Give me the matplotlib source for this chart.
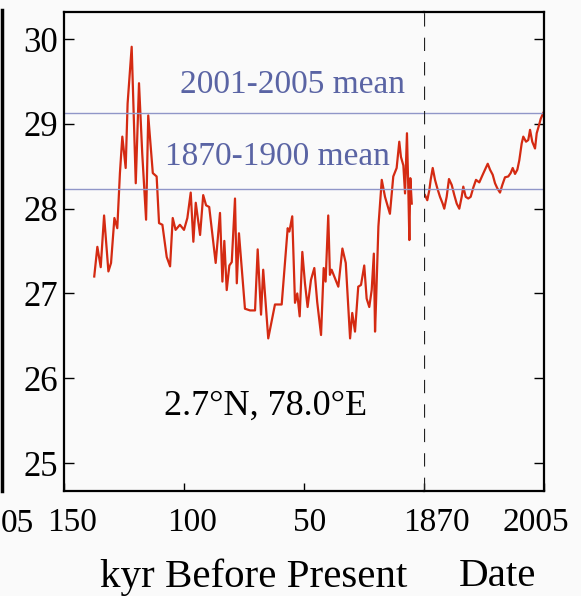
import matplotlib.pyplot as plt
from matplotlib.lines import Line2D
from matplotlib.transforms import ScaledTranslation

plt.rcParams['font.family'] = ['Liberation Serif', 'DejaVu Serif']

# paleo record (kyr before present, SST degC)
kyr = [137.4, 136.1, 134.7, 133.3, 131.5, 130.4, 129.0, 127.8, 126.7, 125.7,
       124.3, 123.5, 121.8, 120.1, 118.75, 117.4, 115.8, 114.9, 113.0, 111.4,
       110.4, 109.0, 107.2, 105.8, 104.7, 103.5, 101.7, 100.0, 98.6, 97.2,
       96.1, 95.1, 93.3, 92.0, 90.8, 89.5, 86.8, 85.0, 84.0, 83.2,
       82.2, 81.1, 80.1, 78.75, 78.0, 77.1, 74.6, 72.5, 70.4, 69.3,
       67.9, 67.0, 64.9, 62.1, 59.3, 56.8, 56.1, 54.9, 53.75, 52.8,
       51.8, 50.7, 49.6, 48.5, 47.1, 45.7, 44.5, 42.9, 41.8, 41.0,
       39.9, 39.2, 38.5, 35.7, 34.0, 32.6, 30.8, 29.9, 28.75, 27.4,
       26.25, 24.9, 23.9, 22.8, 21.8, 20.9, 20.4, 20.0, 19.0, 17.6,
       16.25, 14.2, 12.8, 11.4, 10.3, 9.6, 8.6, 7.9, 7.1, 6.5,
       6.1, 5.7, 5.1]
sst_paleo = [27.20, 27.55, 27.31, 27.92, 27.26, 27.36, 27.89, 27.77, 28.42, 28.85,
             28.48, 29.24, 29.91, 28.30, 29.48, 28.65, 27.87, 29.10, 28.42, 28.38,
             27.83, 27.81, 27.43, 27.32, 27.89, 27.75, 27.81, 27.75, 27.89, 28.19,
             27.61, 28.07, 27.69, 28.16, 28.04, 28.02, 27.36, 27.95, 27.14, 27.62,
             27.04, 27.33, 27.37, 28.12, 27.12, 27.71, 26.82, 26.80, 26.80, 27.52,
             26.75, 27.28, 26.47, 26.87, 26.87, 27.77, 27.73, 27.91, 26.89, 27.00,
             26.73, 27.49, 27.12, 26.84, 27.16, 27.30, 26.90, 26.51, 27.30, 27.14,
             27.92, 27.22, 27.28, 27.08, 27.53, 27.36, 26.47, 26.77, 26.55, 27.08,
             27.10, 27.33, 26.94, 26.84, 27.04, 27.47, 26.55, 26.88, 27.79, 28.34,
             28.14, 27.94, 28.38, 28.48, 28.79, 28.61, 28.51, 28.18, 28.89, 28.18,
             27.63, 28.36, 28.06]

# instrumental record
years = [1871.1, 1873.7, 1876.0, 1877.5, 1879.8, 1882.4, 1885.0, 1888.0, 1891.0, 1892.8,
         1895.5, 1898.1, 1901.2, 1904.1, 1906.8, 1909.7, 1912.4, 1914.2, 1916.9, 1919.8,
         1922.5, 1925.5, 1928.5, 1932.2, 1936.0, 1938.6, 1941.7, 1944.3, 1947.3, 1949.9,
         1952.5, 1955.5, 1958.1, 1961.1, 1964.8, 1967.5, 1969.8, 1972.4, 1975.0, 1977.2,
         1979.9, 1981.7, 1984.8, 1987.3, 1989.3, 1991.8, 1994.9, 1996.8, 1999.0, 2001.3,
         2004.2]
sst_modern = [28.16, 28.10, 28.22, 28.34, 28.48, 28.34, 28.24, 28.14, 28.06, 28.00,
              28.14, 28.35, 28.28, 28.16, 28.06, 28.00, 28.14, 28.26, 28.14, 28.12,
              28.14, 28.25, 28.34, 28.31, 28.40, 28.46, 28.53, 28.46, 28.40, 28.30,
              28.24, 28.19, 28.28, 28.37, 28.38, 28.42, 28.48, 28.41, 28.46, 28.57,
              28.77, 28.85, 28.79, 28.81, 28.93, 28.79, 28.71, 28.89, 28.97, 29.06,
              29.13]

mean_2001_2005 = 29.13
mean_1870_1900 = 28.23

kyr_ticks = [150, 100, 50]
date_ticks = [1870, 2005]
y_ticks = [25, 26, 27, 28, 29, 30]

red = '#d42a12'
blue_line = '#9096c8'
blue_text = '#5a64a4'
bg = '#fafafa'

W, H = 581, 596
fig = plt.figure(figsize=(W / 100, H / 100), dpi=100, facecolor=bg)

bot = 1 - 491 / H
hgt = (491 - 12) / H
ax1 = fig.add_axes([64 / W, bot, 360 / W, hgt], facecolor=bg)
ax2 = fig.add_axes([424 / W, bot, 120 / W, hgt], facecolor=bg, sharey=ax1)

ax1.set_xlim(150, 0)
ax2.set_xlim(1870, 2005)
ax1.set_ylim(24.67, 30.32)

ax1.plot(kyr, sst_paleo, color=red, lw=1.6)
ax2.plot(years, sst_modern, color=red, lw=1.6)

for a in (ax1, ax2):
    a.axhline(mean_2001_2005, color=blue_line, lw=1.0)
    a.axhline(mean_1870_1900, color=blue_line, lw=1.0)
    for s in a.spines.values():
        s.set_linewidth(1.6)
ax2.axvline(1870, color='#222222', lw=1.6, ls=(0, (6, 5)))

ax1.spines['right'].set_visible(False)
ax2.spines['left'].set_visible(False)

ax1.set_yticks(y_ticks)
ax1.set_xticks(kyr_ticks)
ax1.set_xticklabels([str(k) for k in kyr_ticks])
ax2.set_xticks(date_ticks)
ax2.set_xticklabels([str(d) for d in date_ticks])

ax1.tick_params(axis='y', direction='in', length=7, width=1, labelsize=25, pad=4,
                left=True, right=False)
ax2.tick_params(axis='y', direction='in', length=7, width=1, left=False, right=True,
                labelleft=False, labelright=False)
ax1.tick_params(axis='x', direction='in', length=6, width=1, labelsize=24, pad=12)
ax2.tick_params(axis='x', direction='in', length=6, width=1, labelsize=24, pad=12)

# nudge the x labels like in the original
for lab, dx in zip(ax1.get_xticklabels(), [8, 8, 6]):
    lab.set_transform(lab.get_transform() + ScaledTranslation(dx / 100, 0, fig.dpi_scale_trans))
for lab, dx in zip(ax2.get_xticklabels(), [12, -8]):
    lab.set_transform(lab.get_transform() + ScaledTranslation(dx / 100, 0, fig.dpi_scale_trans))

ax1.text(0.636, 0.848, '2001-2005 mean', transform=ax1.transAxes, ha='center',
         va='center', fontsize=24, color=blue_text)
ax1.text(0.592, 0.697, '1870-1900 mean', transform=ax1.transAxes, ha='center',
         va='center', fontsize=24, color=blue_text)
ax1.text(0.56, 0.178, '2.7°N, 78.0°E', transform=ax1.transAxes, ha='center',
         va='center', fontsize=26, color='black')

fig.text(254 / W, 1 - 577 / H, 'kyr Before Present', ha='center', va='center', fontsize=29.5)
fig.text(497 / W, 1 - 577 / H, 'Date', ha='center', va='center', fontsize=29.5)

# edge of the neighbouring panel
fig.add_artist(Line2D([1.5 / W, 1.5 / W], [1 - 10 / H, 1 - 491 / H], color='black',
                      lw=2.5, transform=fig.transFigure))
fig.text(1 / W, 1 - 524 / H, '05', ha='left', va='center', fontsize=24)

fig.savefig('out.png', dpi=100, facecolor=bg)
